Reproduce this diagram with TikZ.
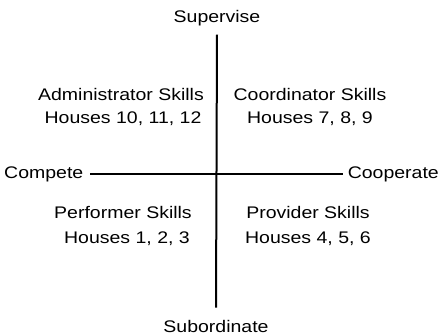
\documentclass[tikz,border=0pt]{standalone}
\usepackage{fontspec}
\setmainfont{Liberation Sans}[FakeStretch=1.16]
\begin{document}
\begin{tikzpicture}[x=1pt,y=1pt,
  lbl/.style={inner sep=0pt, anchor=base, font=\fontsize{16.8}{20}\selectfont, text=black},
  axis/.style={line width=2pt, draw=black}]
\useasboundingbox (0,0) rectangle (440,-335);
\node[lbl] (sup) at (217,-22) {Supervise};
\node[lbl] (sub) at (216,-332) {Subordinate};
\node[lbl, anchor=base west] (comp) at (4,-178) {Compete};
\node[lbl, anchor=base east] (coop) at (439,-178) {Cooperate};
\node[lbl] (adm) at (121,-100) {Administrator Skills};
\node[lbl] (admh) at (123,-123) {Houses 10, 11, 12};
\node[lbl] (coo) at (310,-100) {Coordinator Skills};
\node[lbl] (cooh) at (310,-123) {Houses 7, 8, 9};
\node[lbl] (per) at (123,-218) {Performer Skills};
\node[lbl] (perh) at (127,-243) {Houses 1, 2, 3};
\node[lbl] (pro) at (308,-218) {Provider Skills};
\node[lbl] (proh) at (308,-243) {Houses 4, 5, 6};
\draw[axis] ([yshift=-9pt]sup.south) -- ([yshift=12pt]sub.north);
\draw[axis] ([xshift=7pt]comp.east) -- ([xshift=-5pt]coop.west);
\end{tikzpicture}
\end{document}
